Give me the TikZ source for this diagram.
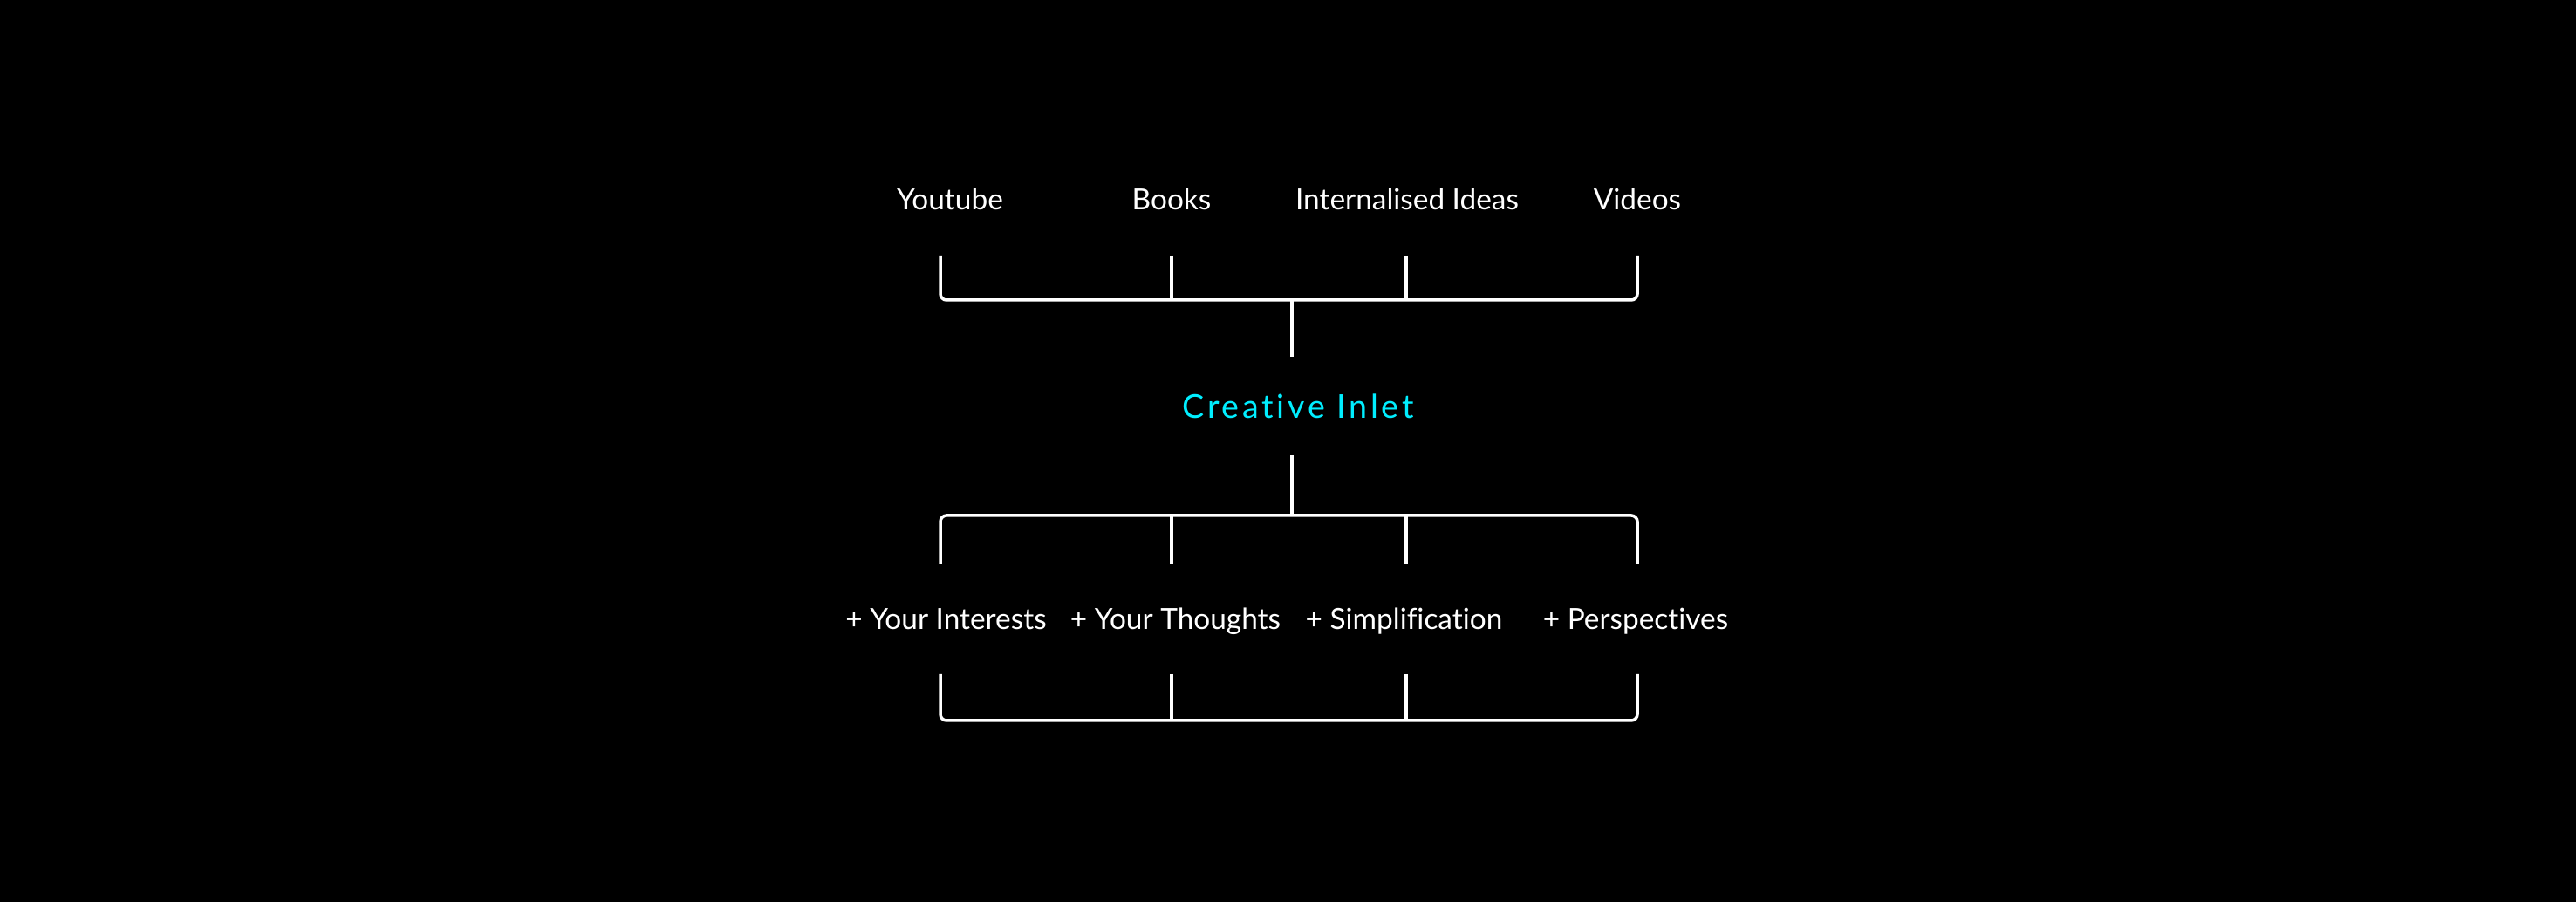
\documentclass[tikz,border=0pt]{standalone}
\usepackage{fontspec}
\setmainfont{Lato}[Ligatures={NoCommon}]
\usetikzlibrary{positioning, calc}
\usepackage{xcolor}
\definecolor{inlet}{RGB}{0,238,255}
\definecolor{ink}{RGB}{255,255,255}

\begin{document}
\begin{tikzpicture}[
    lbl/.style={text=ink, font=\fontsize{9.5}{11}\selectfont,
                anchor=base, inner sep=0pt},
    hub/.style={text=inlet, anchor=base, inner sep=0pt,
                font=\fontsize{10.7}{12}\selectfont\addfontfeature{LetterSpace=10}},
    br/.style={draw=ink, line width=1pt, rounded corners=2pt},
    tk/.style={draw=ink, line width=1pt}
  ]
    \fill[black] (0,0) rectangle (29.53,10.34);

    %% Sources ──────────────────────────────────
    \node[lbl] (yt)  at (10.89,7.93) {Youtube};
    \node[lbl] (bk)  at (13.43,7.93) {Books};
    \node[lbl] (ii)  at (16.13,7.93) {Internalised Ideas};
    \node[lbl] (vd)  at (18.77,7.93) {Videos};

    \coordinate (ytT) at (10.78,7.41);
    \coordinate (bkT) at (13.43,7.41);
    \coordinate (iiT) at (16.12,7.41);
    \coordinate (vdT) at (18.77,7.41);
    \coordinate (barA) at (14.81,6.90);
    \coordinate (stA) at (14.81,6.25);

    \draw[br] (ytT) |- (barA) -| (vdT);
    \draw[tk] (bkT) -- (bkT |- barA);
    \draw[tk] (iiT) -- (iiT |- barA);
    \draw[tk] (barA) -- (stA);

    %% Creative Inlet ───────────────────────────
    \node[hub] (ci) at (14.88,5.54) {Creative Inlet};

    \coordinate (stB) at (14.81,5.12);
    \coordinate (barB) at (14.81,4.43);
    \draw[tk] (stB) -- (barB);
    \draw[br] (10.78,3.88) |- (barB) -| (18.77,3.88);
    \draw[tk] (13.43,4.43) -- (13.43,3.88);
    \draw[tk] (16.12,4.43) -- (16.12,3.88);

    %% Additions ────────────────────────────────
    \node[lbl] (yi) at (10.845,3.12) {+ Your Interests};
    \node[lbl] (yth) at (13.475,3.12) {+ Your Thoughts};
    \node[lbl] (sp) at (16.095,3.12) {+ Simplification};
    \node[lbl] (pe) at (18.75,3.12) {+ Perspectives};

    \coordinate (yiT) at (10.78,2.61);
    \coordinate (ythT) at (13.43,2.61);
    \coordinate (spT) at (16.12,2.61);
    \coordinate (peT) at (18.77,2.61);
    \coordinate (barC) at (14.81,2.08);

    \draw[br] (yiT) |- (barC) -| (peT);
    \draw[tk] (ythT) -- (ythT |- barC);
    \draw[tk] (spT) -- (spT |- barC);

  \end{tikzpicture}
\end{document}
